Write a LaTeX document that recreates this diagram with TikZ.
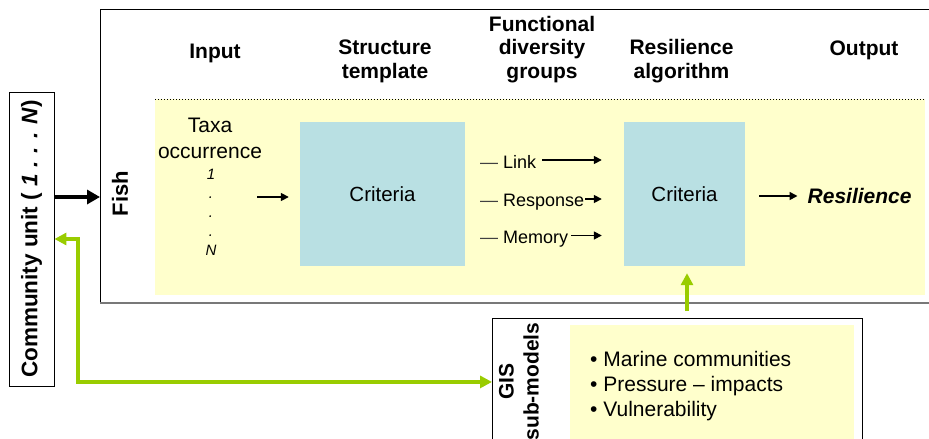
\documentclass[tikz,border=0pt]{standalone}
\usepackage{fontspec}
\usepackage{graphicx}
\setmainfont{Liberation Sans}
\usetikzlibrary{arrows.meta}
\definecolor{paleyellow}{RGB}{255,255,204}
\definecolor{paleblue}{RGB}{185,224,227}
\definecolor{limegreen}{RGB}{153,204,0}
\definecolor{boxgray}{RGB}{120,120,120}
\begin{document}
\begin{tikzpicture}[x=1pt,y=-1pt,
  hdr/.style={font=\fontsize{21}{23.3}\selectfont\bfseries, align=center, anchor=base, inner sep=0pt},
  bodytext/.style={font=\fontsize{21}{25.3}\selectfont, inner sep=0pt},
  smalltext/.style={font=\fontsize{15}{19}\selectfont\itshape, inner sep=0pt, align=center, anchor=base},
  grp/.style={font=\fontsize{18}{20}\selectfont, inner sep=0pt, anchor=base west},
  critbox/.style={fill=paleblue, draw=none, font=\fontsize{20.5}{24}\selectfont, inner sep=0pt},
  thinarrow/.style={-{Triangle[length=8pt,width=8pt]}, line width=1.6pt},
  blackarrow/.style={-{Triangle[length=13pt,width=14pt]}, line width=3.3pt},
  greenarrow/.style={draw=limegreen, line width=4pt, {Triangle[length=12pt,width=12pt]}-{Triangle[length=12pt,width=12pt]}},
  greenup/.style={draw=limegreen, line width=4pt, -{Triangle[length=12pt,width=12pt]}},
  vlabel/.style={rotate=90, font=\fontsize{22}{24}\selectfont\bfseries, inner sep=0pt}
]
\useasboundingbox (0,0) rectangle (929,439);
\fill[white] (0,0) rectangle (929,439);

% main frame
\node[draw, line width=0.9pt, minimum width=840pt, minimum height=292.7pt, anchor=north west, inner sep=0pt] (main) at (100,9.3) {};
\draw[boxgray, line width=2pt] (main.south west) -- (main.south east);

% yellow panel
\node[fill=paleyellow, minimum width=770pt, minimum height=196pt, anchor=north west, inner sep=0pt] (panel) at (155,99) {};
\draw[dash pattern=on 1pt off 2pt, line width=0.8pt] (panel.north west) -- ([xshift=-2pt]panel.north east);

% headers (base = last line)
\node[hdr] (hin) at (215,58) {Input};
\node[hdr] (hst) at (385,78) {Structure\\template};
\node[hdr] (hfd) at (542,78) {Functional\\diversity\\groups};
\node[hdr] (hra) at (681.5,78) {Resilience\\algorithm};
\node[hdr] (hout) at (864,55) {Output};

% fish label
\node[vlabel] (fish) at (120,193.4) {Fish};

% input
\node[bodytext, align=center, anchor=base] (taxa) at (210,158) {Taxa\\occurrence};
\node[smalltext] (seq) at (211,255) {1\\.\\.\\.\\N};

% criteria boxes
\node[critbox, minimum width=165pt, minimum height=144pt] (crit1) at (382.5,194) {Criteria};
\node[critbox, minimum width=121pt, minimum height=144pt] (crit2) at (684.5,194) {Criteria};

\coordinate (tx) at (257,197);
\draw[thinarrow, shorten >=11pt] (tx) -- (tx -| crit1.west);

% functional groups
\node[grp] (glink) at (480,168) {\textcolor{darkgray}{—} Link};
\node[grp] (gresp) at (480,206.5) {\textcolor{darkgray}{—} Response};
\node[grp] (gmem) at (480,243) {\textcolor{darkgray}{—} Memory};
\coordinate (l1) at ([xshift=6pt,yshift=8pt]glink.base east);
\coordinate (l2) at ([xshift=1pt,yshift=7.5pt]gresp.base east);
\coordinate (l3) at ([xshift=3pt,yshift=7.5pt]gmem.base east);
\draw[thinarrow, shorten >=22pt] (l1) -- (l1 -| crit2.west);
\draw[thinarrow, shorten >=22pt] (l2) -- (l2 -| crit2.west);
\draw[thinarrow, shorten >=22pt] (l3) -- (l3 -| crit2.west);

% output
\node[font=\fontsize{21}{24}\selectfont\bfseries\itshape, inner sep=0pt, anchor=base west] (res) at (807.5,203) {Resilience};
\coordinate (r0) at ([xshift=14pt,yshift=-2pt]crit2.east);
\draw[thinarrow, shorten >=10pt] (r0) -- (r0 -| res.west);

% community unit
\node[draw, line width=0.9pt, minimum width=45pt, minimum height=294pt, inner sep=0pt] (cu) at (31.5,239)
  {\rotatebox{90}{\fontsize{22.5}{26}\selectfont\bfseries Community unit ( \textit{1 . . . N})}};
\coordinate (fin) at (cu.east |- 0,197);
\draw[blackarrow] (fin) -- (fin -| main.west);

% GIS box
\node[draw, line width=0.9pt, minimum width=370pt, minimum height=127pt, anchor=north west, inner sep=0pt] (gis) at (492,318) {};
\node[fill=paleyellow, anchor=north west, minimum width=284pt, minimum height=125pt, inner sep=0pt] (gispanel) at (570,325) {};
\node[rotate=90, font=\fontsize{21}{25}\selectfont\bfseries, align=center, inner sep=0pt] (gislab) at (519,381.5) {GIS\\sub-models};
\node[bodytext, align=left, anchor=base west] (bullets) at (590,416.7) {• Marine communities\\• Pressure – impacts\\• Vulnerability};

% green connectors
\draw[greenarrow] (cu.east) -- ++(24,0) |- (gis.west);
\coordinate (gup) at ([xshift=2.5pt]crit2.south);
\draw[greenup, shorten <=7pt, shorten >=7pt] (gup |- gis.north) -- (gup);
\end{tikzpicture}
\end{document}
